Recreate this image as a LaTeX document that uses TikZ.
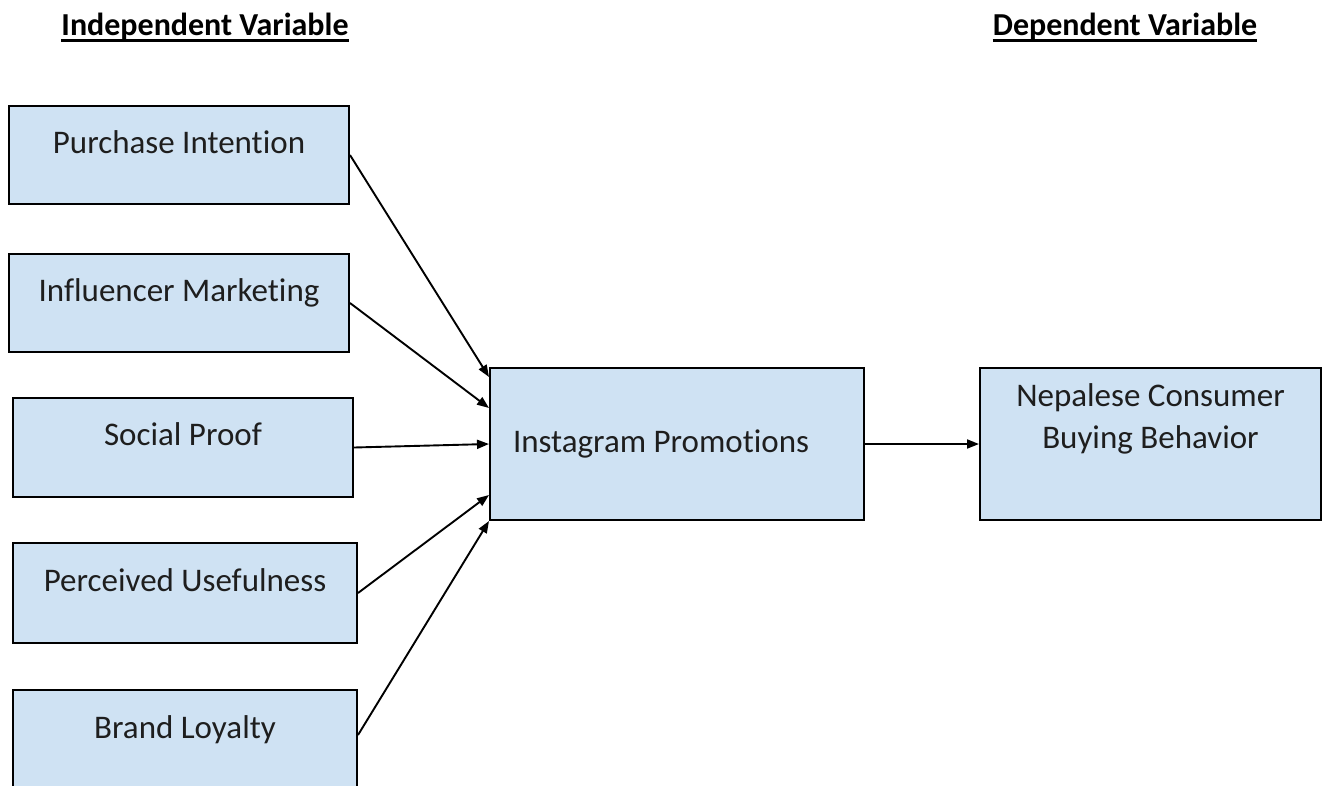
\documentclass[tikz,border=0pt]{standalone}
\usepackage{fontspec}
\setmainfont{Carlito}[Ligatures=NoCommon]
\usetikzlibrary{arrows.meta}
\definecolor{boxblue}{HTML}{CFE2F3}
\definecolor{txt}{HTML}{1E1E1E}
\begin{document}
\begin{tikzpicture}[x=1pt,y=-1pt,
  box/.style={draw=black, line width=2pt, fill=boxblue, inner sep=0pt, anchor=north west,
              font=\fontsize{33}{40}\selectfont, text=txt, text height=47pt},
  conn/.style={line width=1.9pt, -{Triangle[length=12pt,width=9pt]}},
  title/.style={font=\bfseries\fontsize{32}{38}\selectfont, inner sep=0pt, anchor=base, text=black},
  uline/.style={line width=2.4pt}]
\useasboundingbox (0,0) rectangle (1322,785);
\clip (0,0) rectangle (1322,785);

% titles
\node[title] (tiv) at (205,35) {Independent Variable};
\node[title] (tdv) at (1125,35) {Dependent Variable};
\draw[uline] ([yshift=-5.5pt]tiv.base west) -- ([yshift=-5.5pt]tiv.base east);
\draw[uline] ([yshift=-5.5pt]tdv.base west) -- ([yshift=-5.5pt]tdv.base east);

% independent variables
\node[box, minimum width=340pt, text depth=51pt] (pi) at (8,105) {Purchase Intention};
\node[box, minimum width=340pt, text depth=51pt] (im) at (8,253) {Influencer Marketing};
\node[box, minimum width=340pt, text depth=52pt] (sp) at (12,397) {Social Proof};
\node[box, minimum width=344pt, text height=48pt, text depth=52pt] (pu) at (12,542) {Perceived Usefulness};
\node[box, minimum width=344pt, text height=48pt, text depth=62pt] (bl) at (12,689) {Brand Loyalty};

% mediator
\node[box, minimum width=374pt, text height=84pt, text depth=68pt] (ig) at (489,367)
  {\makebox[328pt][l]{Instagram Promotions}};

% dependent variable
\node[box, minimum width=341pt, text height=38pt, text depth=114pt, font=\fontsize{33}{42}\selectfont] (nb) at (979,367)
  {\begin{tabular}[t]{@{}c@{}}Nepalese Consumer\\Buying Behavior\end{tabular}};

% connectors
\draw[conn] (pi.east) -- ([yshift=-10pt]ig.north west);
\draw[conn] (im.east) -- ([yshift=-41pt]ig.north west);
\draw[conn] (sp.east) -- (ig.west);
\draw[conn] (pu.east) -- ([yshift=26pt]ig.south west);
\draw[conn] ([yshift=-46pt]bl.north east) -- (ig.south west);
\draw[conn] (ig.east) -- (nb.west);
\end{tikzpicture}
\end{document}
